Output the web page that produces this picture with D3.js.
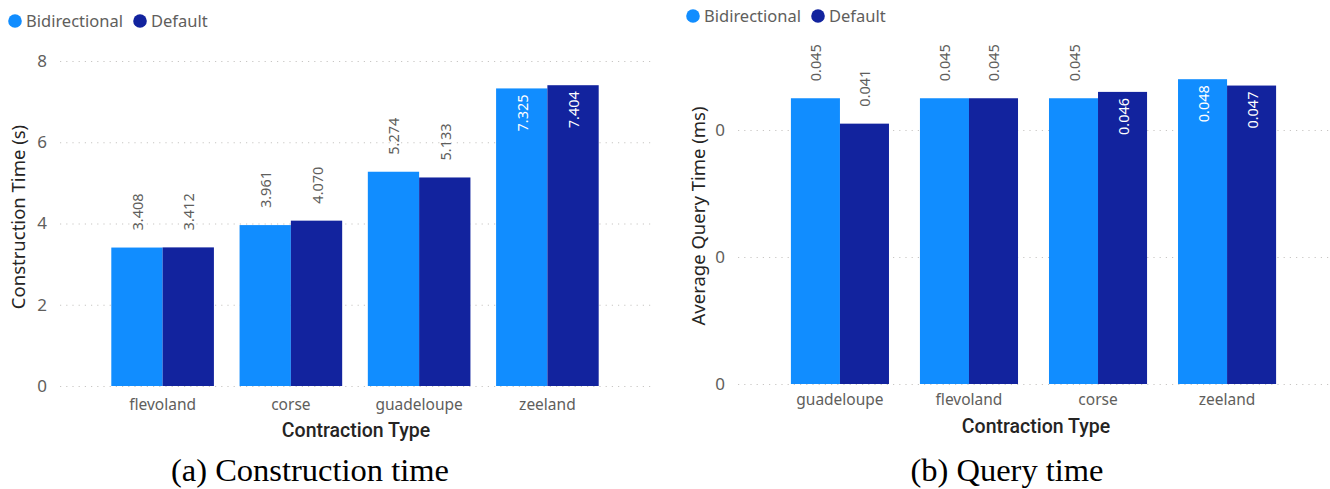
<!DOCTYPE html>
<html>
<head>
<meta charset="utf-8">
<script src="https://cdn.jsdelivr.net/npm/d3@7"></script>
<style>
  html, body { margin: 0; padding: 0; background: #fff; }
  svg { display: block; }
</style>
</head>
<body>
<svg id="chart" width="1330" height="489"></svg>
<script>
// Construction time per map (seconds)
const categoriesA = ["flevoland", "corse", "guadeloupe", "zeeland"];
const bidirectionalA = [3.408, 3.961, 5.274, 7.325];
const defaultA = [3.412, 4.070, 5.133, 7.404];
const ticksA = [0, 2, 4, 6, 8];
const tickLabelsA = ["0", "2", "4", "6", "8"];

// Average query time per map (milliseconds)
const categoriesB = ["guadeloupe", "flevoland", "corse", "zeeland"];
const bidirectionalB = [0.045, 0.045, 0.045, 0.048];
const defaultB = [0.041, 0.045, 0.046, 0.047];
const ticksB = [0, 0.02, 0.04];
const tickLabelsB = ["0", "0", "0"];

const seriesNames = ["Bidirectional", "Default"];
const colors = ["#118DFF", "#12239E"];

const uiFont = "'Noto Sans', 'Open Sans', sans-serif";
const titleFont = "'Roboto', 'DejaVu Sans Condensed', sans-serif";

const svg = d3.select("#chart");

function drawPanel(cfg) {
  const g = svg.append("g");

  const x = d3.scaleBand()
    .domain(cfg.categories)
    .range(cfg.xRange)
    .paddingInner(cfg.padInner)
    .paddingOuter(cfg.padOuter);
  const xs = d3.scaleBand()
    .domain(seriesNames)
    .range([0, x.bandwidth()]);
  const y = d3.scaleLinear()
    .domain(cfg.yDomain)
    .range(cfg.yRange);

  // legend
  const leg = g.append("g");
  let lx = cfg.legendX;
  seriesNames.forEach((name, i) => {
    leg.append("circle")
      .attr("cx", lx).attr("cy", cfg.legendY - 6).attr("r", 6.8)
      .attr("fill", colors[i]);
    const t = leg.append("text")
      .attr("x", lx + 11).attr("y", cfg.legendY)
      .attr("font-family", uiFont).attr("font-size", 16.5)
      .attr("fill", "#605E5C")
      .text(name);
    lx += t.node().getComputedTextLength() + 28;
  });

  // gridlines and tick labels
  const yAxis = d3.axisLeft(y)
    .tickValues(cfg.ticks)
    .tickFormat((d, i) => cfg.tickLabels[i])
    .tickSize(-(cfg.gridRange[1] - cfg.gridRange[0]))
    .tickPadding(13);
  const ya = g.append("g")
    .attr("transform", `translate(${cfg.gridRange[0]},0)`)
    .call(yAxis);
  ya.select(".domain").remove();
  ya.selectAll(".tick line")
    .attr("stroke", "#C8C6C4")
    .attr("stroke-width", 1.2)
    .attr("stroke-dasharray", "1.2,5");
  ya.selectAll(".tick text")
    .attr("font-family", uiFont).attr("font-size", 17)
    .attr("fill", "#605E5C");

  // bars
  const data = cfg.categories.map((c, i) => ({
    cat: c,
    vals: [cfg.bidir[i], cfg.def[i]]
  }));
  const groups = g.selectAll(".grp").data(data).join("g")
    .attr("class", "grp")
    .attr("transform", d => `translate(${x(d.cat)},0)`);
  groups.selectAll("rect")
    .data(d => d.vals.map((v, k) => ({ v, k })))
    .join("rect")
    .attr("x", d => xs(seriesNames[d.k]))
    .attr("width", xs.bandwidth())
    .attr("y", d => y(d.v))
    .attr("height", d => y(0) - y(d.v))
    .attr("fill", d => colors[d.k]);

  // value labels, rotated; placed above the bar unless there is no room
  groups.each(function (d) {
    const grp = d3.select(this);
    d.vals.forEach((v, k) => {
      const cx = xs(seriesNames[k]) + xs.bandwidth() / 2;
      const top = y(v);
      const t = grp.append("text")
        .attr("font-family", uiFont).attr("font-size", 14.5)
        .attr("dominant-baseline", "central")
        .text(cfg.fmt(v));
      const len = t.node().getComputedTextLength();
      const outsideTop = top - 17 - len;
      if (outsideTop >= 40) {
        t.attr("text-anchor", "start")
          .attr("fill", "#605E5C")
          .attr("transform", `translate(${cx},${top - 17}) rotate(-90)`);
      } else {
        t.attr("text-anchor", "end")
          .attr("fill", "#FFFFFF")
          .attr("transform", `translate(${cx},${top + 6}) rotate(-90)`);
      }
    });
  });

  // category labels
  g.selectAll(".cat").data(cfg.categories).join("text")
    .attr("class", "cat")
    .attr("x", d => x(d) + x.bandwidth() / 2)
    .attr("y", cfg.catY)
    .attr("text-anchor", "middle")
    .attr("font-family", uiFont).attr("font-size", 15.5)
    .attr("fill", "#605E5C")
    .text(d => d);

  // axis titles
  g.append("text")
    .attr("x", cfg.xTitleX).attr("y", cfg.xTitleY)
    .attr("text-anchor", "middle")
    .attr("font-family", titleFont).attr("font-size", 19.5)
    .attr("font-weight", 500)
    .attr("fill", "#252423")
    .text("Contraction Type");
  g.append("text")
    .attr("transform", `translate(${cfg.yTitleX},${cfg.yTitleY}) rotate(-90)`)
    .attr("text-anchor", "middle")
    .attr("font-family", uiFont).attr("font-size", 18.5)
    .attr("fill", "#252423")
    .text(cfg.yTitle);

  // caption
  svg.append("text")
    .attr("x", cfg.captionX).attr("y", 481)
    .attr("text-anchor", "middle")
    .attr("font-family", "'Liberation Serif', 'DejaVu Serif', serif")
    .attr("font-size", 32.5)
    .attr("fill", "#000")
    .text(cfg.caption);
}

drawPanel({
  categories: categoriesA, bidir: bidirectionalA, def: defaultA,
  ticks: ticksA, tickLabels: tickLabelsA,
  xRange: [60, 650], padInner: 0.2, padOuter: 0.4,
  yDomain: [0, 8], yRange: [386, 61],
  gridRange: [60, 655],
  legendX: 15, legendY: 27,
  catY: 410, xTitleX: 356, xTitleY: 437,
  yTitleX: 25, yTitleY: 217, yTitle: "Construction Time (s)",
  fmt: d3.format(".3f"),
  captionX: 310, caption: "(a) Construction time"
});

drawPanel({
  categories: categoriesB, bidir: bidirectionalB, def: defaultB,
  ticks: ticksB, tickLabels: tickLabelsB,
  xRange: [738, 1329], padInner: 0.24, padOuter: 0.41,
  yDomain: [0, 0.04], yRange: [384, 130],
  gridRange: [738, 1330],
  legendX: 693, legendY: 22,
  catY: 405, xTitleX: 1036, xTitleY: 433,
  yTitleX: 705, yTitleY: 216, yTitle: "Average Query Time (ms)",
  fmt: d3.format(".3f"),
  captionX: 1007, caption: "(b) Query time"
});
</script>
</body>
</html>
